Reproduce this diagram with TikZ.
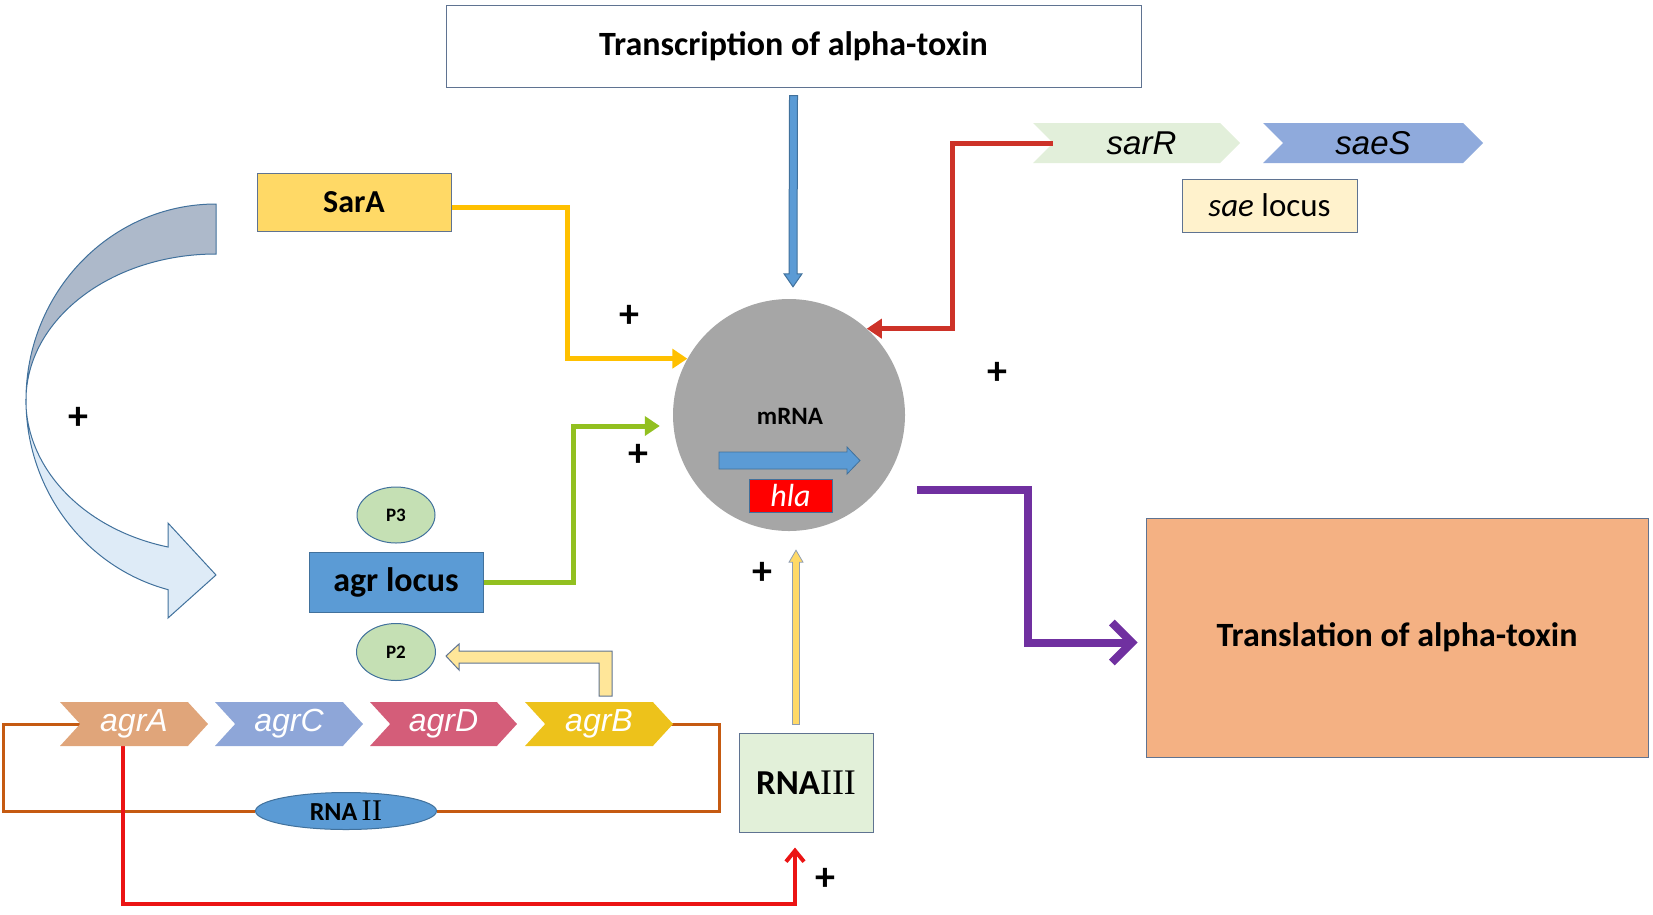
\documentclass[tikz,border=0pt]{standalone}
\usepackage{fontspec}
\setmainfont{Carlito}
\newfontfamily\arialf{Liberation Sans}
\newfontfamily\romf{Liberation Serif}
\usetikzlibrary{shapes.geometric,shapes.symbols,arrows.meta,calc}
\newcommand\fs[1]{\fontsize{#1}{#1}\selectfont}
\definecolor{bordc}{RGB}{95,115,145}
\definecolor{goldc}{RGB}{255,192,0}
\definecolor{sarafill}{RGB}{255,217,102}
\definecolor{circfill}{RGB}{166,166,166}
\definecolor{blu}{RGB}{91,155,213}
\definecolor{bludk}{RGB}{65,113,156}
\definecolor{sarrfill}{RGB}{226,239,218}
\definecolor{saesfill}{RGB}{143,170,220}
\definecolor{saeloc}{RGB}{255,242,204}
\definecolor{transfill}{RGB}{244,177,131}
\definecolor{rna3fill}{RGB}{226,240,217}
\definecolor{pfill}{RGB}{197,224,180}
\definecolor{agrAc}{RGB}{224,165,122}
\definecolor{agrCc}{RGB}{142,166,216}
\definecolor{agrDc}{RGB}{212,93,121}
\definecolor{agrBc}{RGB}{237,194,27}
\definecolor{brownc}{RGB}{197,90,17}
\definecolor{redc}{RGB}{235,20,20}
\definecolor{sarred}{RGB}{205,50,40}
\definecolor{purp}{RGB}{112,48,160}
\definecolor{greenc}{RGB}{146,192,32}
\definecolor{ylw}{RGB}{255,217,102}
\definecolor{ylwl}{RGB}{255,230,153}
\definecolor{curvdk}{RGB}{173,185,202}
\definecolor{curvlt}{RGB}{222,235,247}
\begin{document}
\begin{tikzpicture}[x=1pt,y=-1pt,
  box/.style={draw=bordc, line width=1pt, inner sep=0pt, align=center},
  gene/.style={signal, signal to=east, signal from=west, signal pointer angle=95,
    minimum height=44pt, inner sep=0pt, text=white, font=\arialf\itshape\fs{32}},
  conn/.style={line width=5pt, -{Triangle[length=15pt,width=19pt]}},
  plus/.style={font=\bfseries\fs{40}, inner sep=0pt},
  lbl/.style={font=\bfseries\fs{34}}]
\useasboundingbox (0,0) rectangle (1653,914);

% ---- curved arrow on the left
\draw[fill=curvdk, draw=bludk, line width=1pt]
  (216,204) arc[start angle=90, end angle=180, x radius=190pt, y radius=196pt]
  arc[start angle=180, end angle=90, x radius=190pt, y radius=146pt] -- cycle;
\draw[fill=curvlt, draw=bludk, line width=1pt]
  (26,400) arc[start angle=180, end angle=255.4, x radius=190pt, y radius=196pt]
  -- (168,618) -- (216,575) -- (168,523) -- (168,547)
  arc[start angle=255.4, end angle=180, x radius=190pt, y radius=152pt] -- cycle;

% ---- nodes
\node[box, fill=white, minimum width=695pt, minimum height=82pt, lbl] (top) at (793.5,46) {Transcription of alpha-toxin};
\node[box, fill=sarafill, minimum width=194pt, minimum height=58pt, font=\bfseries\fs{32}] (sara) at (354,202) {SarA};
\node[circle, fill=circfill, minimum size=232pt, inner sep=0pt] (mrna) at (789,415) {};
\node[font=\bfseries\fs{25}, inner sep=0pt] (mtxt) at (790,416) {mRNA};
\node[box, draw=bludk, fill=red, minimum width=83pt, minimum height=33pt, text=white, font=\itshape\fs{32}] (hla) at (790.5,495.5) {hla};

\node[signal, signal to=east, signal from=west, signal pointer angle=90, minimum height=40pt, minimum width=207pt, inner sep=0pt, fill=sarrfill, font=\arialf\itshape\fs{33}] (sarR) at (1136.5,143) {\hspace*{10pt}sarR};
\node[signal, signal to=east, signal from=west, signal pointer angle=90, minimum height=40pt, minimum width=220pt, inner sep=0pt, fill=saesfill, font=\arialf\itshape\fs{33}] (saeS) at (1373,143) {saeS};
\node[box, fill=saeloc, minimum width=175pt, minimum height=53pt, font=\fs{33}] (saeloc) at (1269.5,205.5) {\textit{sae} locus};

\node[box, fill=transfill, minimum width=502pt, minimum height=239pt, lbl] (trans) at (1397,637.5) {Translation of alpha-toxin};

\node[ellipse, draw=bludk, line width=1pt, fill=pfill, minimum width=78pt, minimum height=56pt, inner sep=0pt, font=\bfseries\fs{19}] (p3) at (396,515) {P3};
\node[box, draw=bludk, fill=blu, minimum width=174pt, minimum height=60pt, font=\bfseries\fs{34}] (agr) at (396,582) {agr locus};
\node[ellipse, draw=bludk, line width=1pt, fill=pfill, minimum width=79pt, minimum height=57pt, inner sep=0pt, font=\bfseries\fs{19}] (p2) at (396,652) {P2};

\node[box, fill=rna3fill, minimum width=134pt, minimum height=99pt] (rna3) at (806,782.5) {{\bfseries\fs{35}RNA}{\romf\fs{36}III}};
\node[ellipse, draw=bludk, line width=1pt, fill=blu, minimum width=181pt, minimum height=37pt, inner sep=0pt] (rna2) at (346,811) {{\bfseries\fs{26}RNA\,}{\romf\fs{30}I\kern0.5ptI}};

% ---- brown loop (behind chevrons)
\draw[brownc, line width=3pt] (134,724) -| ($(rna2.west)+(-252,0)$) -- (rna2.west);
\draw[brownc, line width=3pt] (rna2.east) -| ($(rna2.east)+(282,-87)$) -- (599,724);
% ---- red from agrA (behind chevrons)
\draw[redc, line width=4pt, -{Straight Barb[length=11pt,width=18pt]}] (123,730) -- (123,904) -| ($(rna3.south)+(-11,15)$);

\node[gene, fill=agrAc, minimum width=148pt] (agrA) at (134,724) {agrA};
\node[gene, fill=agrCc, minimum width=148pt] (agrC) at (289,724) {agrC};
\node[gene, fill=agrDc, minimum width=147pt] (agrD) at (443.5,724) {agrD};
\node[gene, fill=agrBc, minimum width=148pt] (agrB) at (599,724) {agrB};

% ---- connectors
\draw[conn, goldc] ($(sara.east)+(0,5)$) -- ++(116,0) |- (mrna.151);
\draw[conn, greenc] (agr.east) -- ++(90,0) |- ($(mrna.west)+(-13,11)$);
\draw[conn, sarred] (sarR.west) -| ($(mrna.48.6)+(86,0)$) -- (mrna.48.6);
\draw[purp, line width=8pt, -{Straight Barb[length=20pt,width=40pt]}] ($(mrna.east)+(12,75)$) -- ++(111,0) |- ($(trans.west)+(-8,5)$);

% blue block arrow from top
\coordinate (b1) at ($(top.south)+(0,8)$);
\coordinate (b2) at ($(mrna.north)+(4,-12)$);
\draw[fill=blu, draw=bludk, line width=1pt] ($(b1)+(-4,0)$) -- ($(b1)+(4,0)$) -- ($(b2)+(4,-13)$) -- ($(b2)+(9,-13)$) -- (b2) -- ($(b2)+(-9,-13)$) -- ($(b2)+(-4,-13)$) -- cycle;
% yellow block arrow from RNAIII
\coordinate (c1) at ($(rna3.north)+(-10,-8)$);
\coordinate (c2) at ($(mrna.south)+(7,19)$);
\draw[fill=ylw, draw=bordc!70, line width=0.8pt] ($(c1)+(-3.5,0)$) -- ($(c1)+(3.5,0)$) -- ($(c2)+(3.5,12)$) -- ($(c2)+(7,12)$) -- (c2) -- ($(c2)+(-7,12)$) -- ($(c2)+(-3.5,12)$) -- cycle;
% bent arrow to P2
\coordinate (t) at ($(p2.east)+(10,4)$);
\draw[fill=ylwl, draw=bordc, line width=1pt] (t) -- ++(13,-12) -- ++(0,7) -- ++(153,0) -- ++(0,45) -- ++(-13,0) -- ++(0,-33) -- ++(-140,0) -- ++(0,7) -- cycle;
% inner blue arrow in circle
\draw[fill=blu, draw=bludk, line width=0.8pt] ($(mrna.center)+(-70,37)$) -- ++(128,0) -- ++(0,-5) -- ++(13,13.5) -- ++(-13,13.5) -- ++(0,-5) -- ++(-128,0) -- cycle;

% ---- plus signs
\node[plus] (pl1) at (629,316) {+};
\node[plus] (pl2) at (638,455) {+};
\node[plus] (pl3) at (997,373) {+};
\node[plus] (pl4) at (762,573) {+};
\node[plus] (pl5) at (825,879) {+};
\node[plus] (pl6) at (78,418) {+};
\end{tikzpicture}
\end{document}
